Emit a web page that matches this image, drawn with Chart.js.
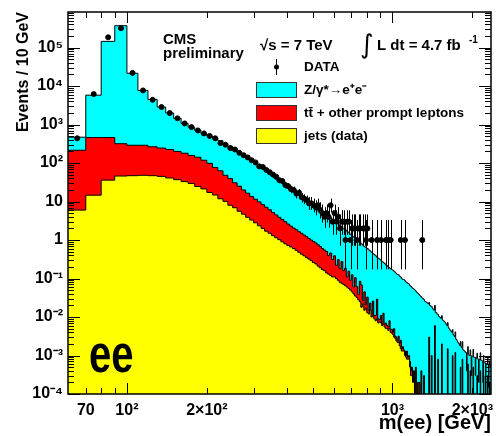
<!DOCTYPE html>
<html><head><meta charset="utf-8">
<script src="https://cdn.jsdelivr.net/npm/chart.js@4.4.1/dist/chart.umd.min.js"></script>
<style>html,body{margin:0;padding:0;background:#fff;}#wrap{width:496px;height:436px;}</style>
</head><body><div id="wrap"><canvas id="c" width="496" height="436"></canvas></div>
<script>
// ---- binning (Events / 10 GeV) ----
const binLowEdge = 60;
const binWidth = 10;

// Z/gamma* -> ee (per bin, from 60 GeV)
const dyValues = [
  255, 5340, 144540, 369680, 21210, 7410, 4235, 2605, 1775, 1250,
  890, 700, 565, 470, 403, 372, 318, 273, 233, 201,
  173, 150, 128.5, 110.5, 94.5, 81.2, 70.7, 60.9, 52.9, 45.8,
  39.5, 34.6, 30.1, 26, 22.9, 20.3, 17.95, 15.95, 14.15, 12.6,
  11.25, 9.98, 8.9, 8.0, 7.28, 6.56, 5.95, 5.42, 4.9, 4.45,
  4.1, 3.75, 3.4, 3.14, 2.88, 2.62, 2.39, 2.17, 1.99, 1.8,
  1.66, 1.59, 1.39, 1.33, 1.18, 1.14, 1.0, 0.94, 0.89, 0.8,
  0.73, 0.71, 0.63, 0.62, 0.57, 0.54, 0.5, 0.47, 0.42, 0.41,
  0.38, 0.33, 0.33, 0.31, 0.29, 0.27, 0.25, 0.24, 0.22, 0.21,
  0.195, 0.182, 0.175, 0.165, 0.161, 0.15, 0.142, 0.132, 0.125, 0.122,
  0.113, 0.107, 0.098, 0.093, 0.093, 0.087, 0.081, 0.077, 0.073, 0.071,
  0.065, 0.062, 0.058, 0.055, 0.053, 0.05, 0.047, 0.044, 0.042, 0.04,
  0.037, 0.035, 0.033, 0.031, 0.03, 0.028, 0.026, 0.025, 0.024, 0.023,
  0.022, 0.021, 0.02, 0.019, 0.018, 0.017, 0.016, 0.015, 0.014, 0.013,
  0.013, 0.012, 0.011, 0.0105, 0.01, 0.0098, 0.0092, 0.0088, 0.0084, 0.008,
  0.0078, 0.0075, 0.007, 0.0065, 0.006, 0.0057, 0.0054, 0.005, 0.0047, 0.0045,
  0.0042, 0.004, 0.0037, 0.0035, 0.0033, 0.0031, 0.0029, 0.0027, 0.0026, 0.0024,
  0.0022, 0.0021, 0.002, 0.0018, 0.0018, 0.0017, 0.0016, 0.0015, 0.0014, 0.0014,
  0.0013, 0.0013, 0.0012, 0.0012, 0.0004, 0.0011, 0.0011, 0.0011, 0.001, 0.001,
  0.001, 0.001, 0.0003, 0.00095, 0.00095, 0.00095, 0.0009, 0.0009, 0.0009, 0.0003,
  0.00088, 0.00085, 0.00085, 0.00083, 0.0008, 0.0002, 0.0008, 0.00078, 0.00078, 0.00075,
  0.00075, 0.00073, 0.00072, 0.0002, 0.0007, 0.00068, 0.00066, 0.00065, 0.0001, 0.00062,
  0.0006, 0.0006, 0.00058, 0.00057, 0.00015, 0.00054, 0.00053, 0.00052, 0.0005
];

// ttbar + other prompt leptons
const ttValues = [
  209, 445, 424, 272, 243, 242, 218, 200, 184, 163,
  147, 128, 117, 97, 81, 62, 51, 38, 31.5, 23.8,
  19.4, 15.3, 12.6, 10.2, 8.7, 7.45, 6.3, 5.4, 4.6, 3.9,
  3.35, 2.88, 2.5, 2.2, 1.88, 1.64, 1.45, 1.31, 1.17, 1.07,
  0.96, 0.87, 0.78, 0.71, 0.66, 0.6, 0.54, 0.49, 0.43, 0.39,
  0.36, 0.26, 0.34, 0.2, 0.28, 0.12, 0.22, 0.1, 0.2, 0.09,
  0.12, 0.05, 0.1, 0.04, 0.08, 0.02, 0.07, 0.03, 0.01, 0.06,
  0.05, 0.005, 0.03, 0.004, 0.02, 0.003, 0.008, 0.002, 0.015, 0.002,
  0.003, 0.02, 0.002, 0.001, 0.004, 0.001, 0.006, 0.001, 0.002, 0.001,
  0.001, 0.003, 0.0008, 0.001, 0.0005, 0.002, 0.0004, 0.0006, 0.0003, 0.001,
  0.0003, 0.001, 0.0002, 0.0004, 0.0001, 0.0003, 0.0001, 0.0005, 0.0001, 0.0002,
  0.0002, 0.0001, 0.0002, 0.0001, 0.0001, 0.0003, 0.0001, 0.0002, 0.0001, 0,
  0.0002, 0, 0.0004, 0, 0, 0.0003, 0, 0.0001, 0, 0,
  0, 0.003, 0, 0, 0.001, 0, 0, 0, 0.006, 0,
  0, 0, 0.0008, 0, 0, 0, 0, 0.002, 0, 0,
  0, 0, 0, 0, 0, 0.0015, 0, 0, 0, 0,
  0, 0, 0.001, 0, 0, 0, 0.0012, 0, 0, 0,
  0, 0, 0, 0, 0.0005, 0, 0, 0.0008, 0, 0,
  0, 0, 0, 0, 0, 0, 0.0006, 0, 0, 0,
  0.0004, 0, 0, 0, 0, 0.0005, 0, 0, 0, 0,
  0, 0, 0.0003, 0, 0, 0, 0, 0, 0.0004, 0,
  0, 0, 0, 0, 0.0003, 0, 0, 0, 0, 0,
  0, 0, 0.0003, 0, 0, 0, 0.0002, 0, 0
];

// jets (data-driven); bins beyond the list are empty
const jetsValues = [
  6, 14.6, 36, 46, 47, 48, 47, 45, 41, 37,
  33, 29.5, 24.6, 21.3, 17.2, 14.8, 11.8, 10.1, 8.0, 6.9,
  5.6, 4.7, 3.9, 3.3, 2.8, 2.35, 2.0, 1.7, 1.5, 1.3,
  1.15, 1.02, 0.9, 0.8, 0.72, 0.66, 0.6, 0.54, 0.48, 0.43,
  0.39, 0.35, 0.32, 0.29, 0.26, 0.24, 0.21, 0.19, 0.17, 0.16,
  0.14, 0.13, 0.12, 0.11, 0.11, 0.1, 0.09, 0.08, 0.075, 0.07,
  0.065, 0.06, 0.055, 0.05, 0.045, 0.04, 0.035, 0.032, 0.028, 0.025,
  0.018, 0.022, 0.015, 0.017, 0.013, 0.012, 0.015, 0.01, 0.011, 0.009,
  0.008, 0.009, 0.007, 0.0075, 0.007, 0.006, 0.0065, 0.0055, 0.005, 0.005,
  0.0045, 0.005, 0.004, 0.0038, 0.0035, 0.003, 0.0028, 0.0024, 0.0022, 0.0022,
  0.0018, 0.0015, 0.0013, 0.0013, 0.0013, 0.001, 0.0009, 0.0008, 0.0008, 0.0008,
  0.0005, 0.0003, 0.0003, 0.0002, 0.0003, 0, 0.0004, 0, 0, 0.0002
];

// observed events per bin (bins beyond the list: no events)
const dataCounts = [
  440, 6200, 185000, 320000, 22000, 7700, 4400, 2850, 1990, 1450,
  1070, 860, 705, 590, 505, 440, 330, 300, 245, 225,
  185, 160, 140, 118, 104, 82, 79, 66, 58, 50,
  44, 36, 34, 27, 25, 21, 20, 16, 17, 13,
  12, 11, 9, 9, 8, 7, 8, 6, 5, 4,
  5, 4, 8, 3, 5, 3, 4, 2, 3, 3,
  1, 3, 3, 1, 2, 2, 2, 1, 2, 2,
  0, 2, 2, 1, 2, 0, 0, 1, 0, 0,
  0, 1, 0, 0, 1, 0, 0, 0, 1, 0,
  1, 0, 1, 0, 0, 0, 0, 0, 0, 0,
  0, 1, 0, 0, 0, 1, 0, 0, 0, 0,
  0, 0, 0, 0, 0, 0, 0, 0, 0, 0,
  0, 0, 0, 1
];

// 68% Poisson (Garwood) intervals for small counts
const poissonLow  = [0, 0.173, 0.708, 1.367, 2.086, 2.840, 3.620, 4.419, 5.232, 6.057, 6.891];
const poissonHigh = [1.841, 3.300, 4.638, 5.918, 7.163, 8.382, 9.584, 10.77, 11.95, 13.11, 14.27];

const xTickValues = [70, 100, 200, 1000, 2000];
const xTickLabels = ['70', '10²', '2×10²', '10³', '2×10³'];
const yTickValues = [1e-4, 1e-3, 1e-2, 1e-1, 1, 10, 1e2, 1e3, 1e4, 1e5];
const yTickLabels = ['10⁻⁴', '10⁻³', '10⁻²', '10⁻¹', '1', '10', '10²', '10³', '10⁴', '10⁵'];

const legendLabels = ['DATA', 'Z/γ*→e⁺e⁻', 'tt̄ + other prompt leptons', 'jets (data)'];
const colors = { dy: '#00FFFF', tt: '#FF0000', jets: '#FFFF00' };

const X_MIN = 60, X_MAX = 2350, Y_MIN = 1e-4, Y_MAX = 8.4e5;
const FONT = '"Liberation Sans", Arial, Helvetica, sans-serif';

// ---- build stacked histograms ----
const nBins = dyValues.length;
const edge = i => binLowEdge + i * binWidth;
const jetsTop = [], ttTop = [], totalTop = [];
for (let i = 0; i < nBins; i++) {
  const j = jetsValues[i] ?? 0, t = ttValues[i] ?? 0, d = dyValues[i] ?? 0;
  jetsTop.push(j); ttTop.push(j + t); totalTop.push(j + t + d);
}
const FLOOR = Y_MIN * 1e-3; // empty bins sit below the axis
function histPoints(vals) {
  const pts = vals.map((v, i) => ({ x: edge(i), y: v > 0 ? v : FLOOR }));
  pts.push({ x: edge(vals.length), y: vals[vals.length - 1] > 0 ? vals[vals.length - 1] : FLOOR });
  return pts;
}
const dataPoints = [];
dataCounts.forEach((n, i) => { if (n > 0) dataPoints.push({ x: edge(i) + binWidth / 2, y: n }); });

function histDS(label, vals, color) {
  return {
    label, data: histPoints(vals), stepped: true, fill: 'start',
    backgroundColor: color, borderColor: '#000', borderWidth: 1,
    pointRadius: 0, tension: 0
  };
}

// ---- plugins ----
const errorBars = {
  id: 'errorBars',
  afterDatasetsDraw(chart) {
    const { ctx, chartArea: a, scales: { y } } = chart;
    const meta = chart.getDatasetMeta(0);
    ctx.save();
    ctx.beginPath(); ctx.rect(a.left, a.top, a.width, a.height); ctx.clip();
    ctx.strokeStyle = '#000'; ctx.lineWidth = 1;
    meta.data.forEach((pt, k) => {
      const n = dataPoints[k].y;
      const lo = n <= 10 ? poissonLow[n] : n - Math.sqrt(n);
      const hi = n <= 10 ? poissonHigh[n] : n + Math.sqrt(n);
      const yl = lo > 0 ? y.getPixelForValue(lo) : a.bottom;
      const yh = y.getPixelForValue(hi);
      const px = Math.round(pt.x) + 0.5;
      ctx.beginPath(); ctx.moveTo(px, yl); ctx.lineTo(px, yh); ctx.stroke();
    });
    ctx.restore();
  }
};

const frameTicks = {
  id: 'frameTicks',
  afterDatasetsDraw(chart) {
    const { ctx, chartArea: a, scales: { x, y } } = chart;
    ctx.save();
    ctx.strokeStyle = '#000'; ctx.lineWidth = 1;
    const seg = (x1, y1, x2, y2) => { ctx.beginPath(); ctx.moveTo(x1, y1); ctx.lineTo(x2, y2); ctx.stroke(); };
    for (let e = -4; e <= 5; e++) {
      for (let k = 1; k <= 9; k++) {
        const v = k * Math.pow(10, e);
        if (v < Y_MIN || v > Y_MAX) continue;
        const py = Math.round(y.getPixelForValue(v)) + 0.5;
        const len = k === 1 ? 12 : 6;
        seg(a.left, py, a.left + len, py);
        seg(a.right, py, a.right - len, py);
      }
    }
    for (let e = 1; e <= 3; e++) {
      for (let k = 1; k <= 9; k++) {
        const v = k * Math.pow(10, e);
        if (v <= X_MIN || v >= X_MAX) continue;
        const px = Math.round(x.getPixelForValue(v)) + 0.5;
        const len = k === 1 ? 11 : 6;
        seg(px, a.bottom, px, a.bottom - len);
        seg(px, a.top, px, a.top + len);
      }
    }
    ctx.lineWidth = 1.5;
    ctx.strokeRect(a.left, a.top, a.right - a.left, a.bottom - a.top);
    ctx.restore();
  }
};

const annotations = {
  id: 'annotations',
  afterDraw(chart) {
    const ctx = chart.ctx;
    ctx.save();
    ctx.fillStyle = '#000';
    ctx.textBaseline = 'alphabetic';
    ctx.textAlign = 'left';
    const B = s => `bold ${s}px ${FONT}`;
    ctx.font = B(15);
    ctx.fillText('CMS', 163, 44);
    ctx.fillText('preliminary', 163, 58);
    ctx.fillText('√s = 7 TeV', 260, 50);
    ctx.font = `26px "DejaVu Sans", ${FONT}`;
    ctx.textBaseline = 'middle';
    ctx.fillText('∫', 360, 46);
    ctx.textBaseline = 'alphabetic';
    ctx.font = B(15);
    ctx.fillText('L dt = 4.7 fb', 377, 50);
    ctx.font = B(10);
    ctx.fillText('-1', 469, 43);

    // legend
    ctx.font = B(13.5);
    ctx.textBaseline = 'middle';
    ctx.strokeStyle = '#000'; ctx.lineWidth = 1;
    ctx.beginPath(); ctx.moveTo(276.5, 59); ctx.lineTo(276.5, 75); ctx.stroke();
    ctx.beginPath(); ctx.arc(276.5, 67, 2.5, 0, Math.PI * 2); ctx.fill();
    ctx.fillText(legendLabels[0], 304, 67);
    const boxes = [[colors.dy, 82, legendLabels[1]], [colors.tt, 105, legendLabels[2]], [colors.jets, 128, legendLabels[3]]];
    boxes.forEach(([c, top, txt]) => {
      ctx.fillStyle = c; ctx.fillRect(256, top, 41, 16);
      ctx.strokeStyle = '#333'; ctx.lineWidth = 1; ctx.strokeRect(256.5, top + 0.5, 40, 15);
      ctx.fillStyle = '#000'; ctx.fillText(txt, 304, top + 8.5);
    });

    // channel label
    ctx.textBaseline = 'alphabetic';
    ctx.font = B(40);
    ctx.translate(89, 372);
    ctx.scale(1, 1.3);
    ctx.fillText('ee', 0, 0);
    ctx.restore();
  }
};

new Chart(document.getElementById('c'), {
  type: 'line',
  data: {
    datasets: [
      { label: legendLabels[0], data: dataPoints, showLine: false, pointRadius: 2.5, pointHoverRadius: 2.5,
        pointBackgroundColor: '#000', pointBorderColor: '#000', borderColor: '#000', backgroundColor: '#000' },
      histDS(legendLabels[3], jetsTop, colors.jets),
      histDS(legendLabels[2], ttTop, colors.tt),
      histDS(legendLabels[1], totalTop, colors.dy)
    ]
  },
  options: {
    responsive: false, animation: false, events: [],
    layout: { padding: { top: 12, right: 5, left: 0, bottom: 0 } },
    plugins: { legend: { display: false }, tooltip: { enabled: false } },
    scales: {
      x: {
        type: 'logarithmic', min: X_MIN, max: X_MAX, bounds: 'data',
        afterBuildTicks: s => { s.ticks = xTickValues.map(v => ({ value: v })); },
        afterFit: s => { s.height = 42; s.paddingLeft = 0; s.paddingRight = 0; },
        grid: { display: false, drawTicks: false }, border: { display: false },
        ticks: { autoSkip: false, maxRotation: 0, minRotation: 0, padding: 7, color: '#000',
                 font: { family: FONT, size: 16, weight: 'bold' },
                 callback: (v, i) => xTickLabels[i] },
        title: { display: true, text: 'm(ee) [GeV]', align: 'end', color: '#000',
                 font: { family: FONT, size: 20, weight: 'bold' }, padding: { top: 0, bottom: 1 } }
      },
      y: {
        type: 'logarithmic', min: Y_MIN, max: Y_MAX, bounds: 'data',
        afterBuildTicks: s => { s.ticks = yTickValues.map(v => ({ value: v })); },
        afterFit: s => { s.width = 68; s.paddingTop = 0; s.paddingBottom = 0; },
        grid: { display: false, drawTicks: false }, border: { display: false },
        ticks: { autoSkip: false, padding: 5, color: '#000',
                 font: { family: FONT, size: 16, weight: 'bold' },
                 callback: (v, i) => yTickLabels[i] },
        title: { display: true, text: 'Events / 10 GeV', align: 'end', color: '#000',
                 font: { family: FONT, size: 16, weight: 'bold' }, padding: { top: 14, bottom: 0 } }
      }
    }
  },
  plugins: [errorBars, frameTicks, annotations]
});
</script></body></html>
